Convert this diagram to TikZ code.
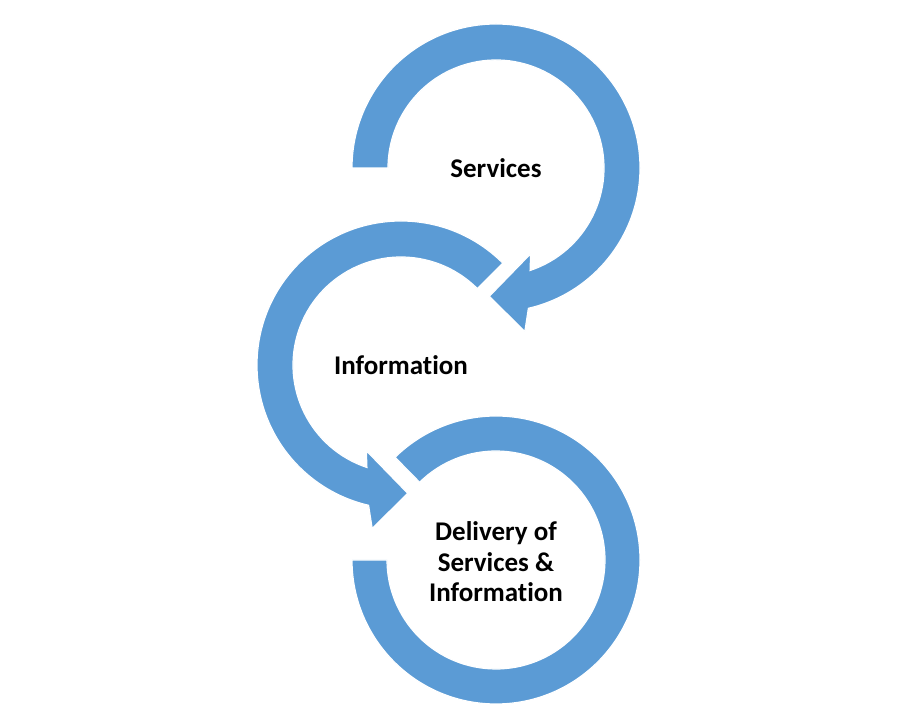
\documentclass[tikz,border=0pt]{standalone}
\usepackage{fontspec}
\setmainfont[Ligatures={NoCommon}]{Carlito}
\usetikzlibrary{calc}
\definecolor{ringblue}{HTML}{5B9BD5}
\tikzset{
  ring/.style={fill=ringblue, draw=white, line width=1.2pt, line join=miter},
  label/.style={font=\bfseries\fontsize{27}{30.5}\selectfont, text=black, align=center, inner sep=0pt}
}
\begin{document}
\begin{tikzpicture}[x=1pt,y=1pt]
\useasboundingbox (0,0) rectangle (900,720);
\fill[white] (0,0) rectangle (900,720);
\coordinate (C1) at (496,552);
\coordinate (C2) at (401,355);
\coordinate (C3) at (496,160);
% top arrow (clockwise)
\path[ring] ($(C1)+(180:144)$) arc[start angle=180, end angle=-77, radius=144]
  -- ($(C1)+(-80:166)$) -- ($(C1)+(-93:128.5)$) -- ($(C1)+(-68:92.5)$)
  -- ($(C1)+(-71.6:108)$) arc[start angle=-71.6, end angle=180, radius=108] -- cycle;
% middle arrow (counterclockwise)
\path[ring] ($(C2)+(45:144)$) arc[start angle=45, end angle=257, radius=144]
  -- ($(C2)+(260:166)$) -- ($(C2)+(273:128.5)$) -- ($(C2)+(248:92.5)$)
  -- ($(C2)+(251.6:108)$) arc[start angle=251.6, end angle=45, radius=108] -- cycle;
% bottom ring
\path[ring] ($(C3)+(180:144)$) arc[start angle=180, end angle=494.5, radius=144]
  -- ($(C3)+(494.5:109)$) arc[start angle=494.5, end angle=180, radius=109] -- cycle;
\node[label] (services) at ($(C1)+(0,0)$) {Services};
\node[label] (information) at ($(C2)+(0,0)$) {Information};
\node[label] (delivery) at ($(C3)+(0,-2)$) {Delivery of\\Services \&\\Information};
\end{tikzpicture}
\end{document}
